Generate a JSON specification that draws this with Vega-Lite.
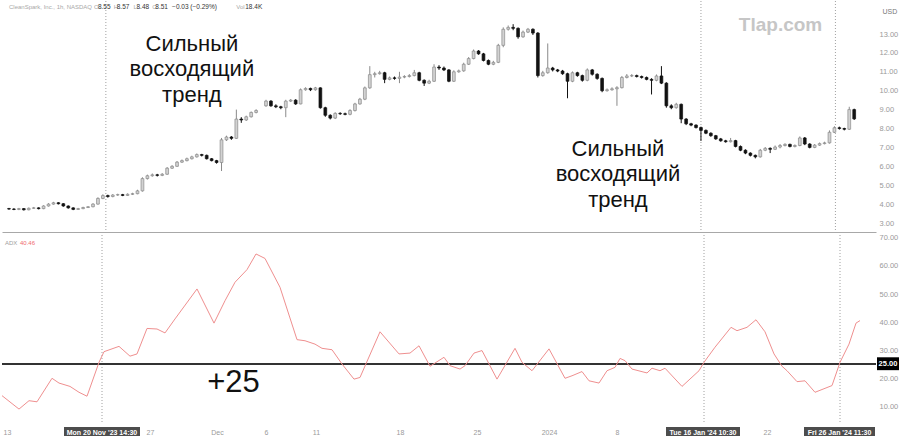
{
  "$schema": "https://vega.github.io/schema/vega-lite/v6.json",
  "padding": 0,
  "spacing": 0,
  "config": {"view": {"stroke": null}, "font": "Liberation Sans", "axis": {"labelFont": "Liberation Sans", "labelColor": "#9a9a9a", "labelFontSize": 8, "grid": false, "ticks": false, "domain": false, "labelOverlap": false}},
  "datasets": {
    "marks": [{"i": 19.6}, {"i": 140}, {"i": 167.2}],
    "candles": [
      {"i":0,"o":3.76,"h":3.80,"l":3.70,"c":3.74},{"i":1,"o":3.74,"h":3.78,"l":3.68,"c":3.72},{"i":2,"o":3.72,"h":3.80,"l":3.68,"c":3.76},{"i":3,"o":3.76,"h":3.79,"l":3.66,"c":3.70},{"i":4,"o":3.70,"h":3.82,"l":3.67,"c":3.78},{"i":5,"o":3.78,"h":3.85,"l":3.75,"c":3.80},{"i":6,"o":3.80,"h":3.83,"l":3.72,"c":3.76},{"i":7,"o":3.76,"h":3.94,"l":3.73,"c":3.90},{"i":8,"o":3.90,"h":4.05,"l":3.87,"c":4.00},{"i":9,"o":4.00,"h":4.12,"l":3.97,"c":4.07},
      {"i":10,"o":4.07,"h":4.10,"l":3.98,"c":4.02},{"i":11,"o":4.02,"h":4.05,"l":3.86,"c":3.90},{"i":12,"o":3.90,"h":3.93,"l":3.76,"c":3.80},{"i":13,"o":3.80,"h":3.83,"l":3.68,"c":3.72},{"i":14,"o":3.72,"h":3.80,"l":3.69,"c":3.76},{"i":15,"o":3.76,"h":3.86,"l":3.73,"c":3.82},{"i":16,"o":3.82,"h":3.90,"l":3.79,"c":3.86},{"i":17,"o":3.86,"h":4.05,"l":3.83,"c":4.00},{"i":18,"o":4.00,"h":4.36,"l":3.97,"c":4.30},{"i":19,"o":4.30,"h":4.52,"l":4.26,"c":4.45},
      {"i":20,"o":4.45,"h":4.50,"l":4.34,"c":4.40},{"i":21,"o":4.40,"h":4.53,"l":4.36,"c":4.48},{"i":22,"o":4.48,"h":4.55,"l":4.44,"c":4.50},{"i":23,"o":4.50,"h":4.54,"l":4.42,"c":4.46},{"i":24,"o":4.46,"h":4.57,"l":4.43,"c":4.52},{"i":25,"o":4.52,"h":4.60,"l":4.48,"c":4.55},{"i":26,"o":4.55,"h":4.76,"l":4.52,"c":4.70},{"i":27,"o":4.70,"h":5.42,"l":4.66,"c":5.35},{"i":28,"o":5.35,"h":5.56,"l":5.30,"c":5.50},{"i":29,"o":5.50,"h":5.62,"l":5.45,"c":5.55},
      {"i":30,"o":5.55,"h":5.60,"l":5.46,"c":5.52},{"i":31,"o":5.52,"h":5.64,"l":5.48,"c":5.58},{"i":32,"o":5.58,"h":5.96,"l":5.55,"c":5.90},{"i":33,"o":5.90,"h":6.06,"l":5.86,"c":6.00},{"i":34,"o":6.00,"h":6.28,"l":5.97,"c":6.22},{"i":35,"o":6.22,"h":6.36,"l":6.18,"c":6.30},{"i":36,"o":6.30,"h":6.46,"l":6.26,"c":6.40},{"i":37,"o":6.40,"h":6.56,"l":6.36,"c":6.50},{"i":38,"o":6.50,"h":6.68,"l":6.46,"c":6.62},{"i":39,"o":6.62,"h":6.66,"l":6.52,"c":6.58},
      {"i":40,"o":6.58,"h":6.62,"l":6.36,"c":6.40},{"i":41,"o":6.40,"h":6.44,"l":6.26,"c":6.30},{"i":42,"o":6.30,"h":6.34,"l":6.14,"c":6.20},{"i":43,"o":6.20,"h":7.50,"l":5.75,"c":7.40},{"i":44,"o":7.40,"h":7.62,"l":7.34,"c":7.55},{"i":45,"o":7.55,"h":7.60,"l":7.40,"c":7.48},{"i":46,"o":7.48,"h":9.00,"l":7.45,"c":8.50},{"i":47,"o":8.50,"h":8.60,"l":8.30,"c":8.45},{"i":48,"o":8.45,"h":8.68,"l":8.40,"c":8.62},{"i":49,"o":8.62,"h":8.90,"l":8.58,"c":8.85},
      {"i":50,"o":8.85,"h":9.02,"l":8.80,"c":8.95},{"i":52,"o":9.20,"h":9.52,"l":9.15,"c":9.45},{"i":53,"o":9.45,"h":9.50,"l":9.15,"c":9.20},{"i":54,"o":9.20,"h":9.28,"l":9.08,"c":9.15},{"i":55,"o":9.15,"h":9.20,"l":9.02,"c":9.10},{"i":56,"o":9.10,"h":9.52,"l":8.60,"c":9.45},{"i":57,"o":9.45,"h":9.56,"l":9.40,"c":9.50},{"i":58,"o":9.50,"h":9.55,"l":9.25,"c":9.30},{"i":59,"o":9.30,"h":10.12,"l":9.28,"c":10.05},
      {"i":60,"o":10.05,"h":10.18,"l":10.00,"c":10.12},{"i":61,"o":10.12,"h":10.16,"l":9.98,"c":10.05},{"i":62,"o":10.05,"h":10.20,"l":10.00,"c":10.15},{"i":63,"o":10.15,"h":10.18,"l":9.05,"c":9.10},{"i":64,"o":9.10,"h":9.15,"l":8.62,"c":8.70},{"i":65,"o":8.70,"h":8.75,"l":8.48,"c":8.55},{"i":66,"o":8.55,"h":8.86,"l":8.50,"c":8.80},{"i":67,"o":8.80,"h":8.86,"l":8.72,"c":8.78},{"i":68,"o":8.78,"h":8.84,"l":8.70,"c":8.75},{"i":69,"o":8.75,"h":9.02,"l":8.70,"c":8.95},
      {"i":70,"o":8.95,"h":9.36,"l":8.90,"c":9.30},{"i":71,"o":9.30,"h":9.62,"l":9.26,"c":9.55},{"i":72,"o":9.55,"h":10.22,"l":9.50,"c":10.15},{"i":73,"o":10.15,"h":11.30,"l":10.10,"c":10.85},{"i":74,"o":10.85,"h":11.00,"l":10.70,"c":10.90},{"i":75,"o":10.90,"h":11.05,"l":10.85,"c":10.95},{"i":76,"o":10.95,"h":11.00,"l":10.40,"c":10.60},{"i":77,"o":10.60,"h":10.75,"l":10.55,"c":10.68},{"i":78,"o":10.68,"h":10.75,"l":10.58,"c":10.65},{"i":79,"o":10.65,"h":11.00,"l":10.40,"c":10.72},
      {"i":80,"o":10.72,"h":10.82,"l":10.66,"c":10.75},{"i":81,"o":10.75,"h":10.88,"l":10.70,"c":10.80},{"i":82,"o":10.80,"h":11.10,"l":10.76,"c":10.95},{"i":83,"o":10.95,"h":11.00,"l":10.50,"c":10.55},{"i":84,"o":10.55,"h":10.60,"l":10.25,"c":10.40},{"i":85,"o":10.40,"h":10.58,"l":10.35,"c":10.50},{"i":86,"o":10.50,"h":11.40,"l":10.46,"c":11.25},{"i":87,"o":11.25,"h":11.35,"l":11.10,"c":11.20},{"i":88,"o":11.20,"h":11.28,"l":11.04,"c":11.10},{"i":89,"o":11.10,"h":11.14,"l":10.45,"c":10.50},
      {"i":90,"o":10.50,"h":11.08,"l":10.46,"c":11.00},{"i":91,"o":11.00,"h":11.12,"l":10.95,"c":11.05},{"i":92,"o":11.05,"h":11.48,"l":11.00,"c":11.40},{"i":93,"o":11.40,"h":11.78,"l":11.36,"c":11.70},{"i":94,"o":11.70,"h":12.18,"l":11.66,"c":12.10},{"i":95,"o":12.10,"h":12.15,"l":11.90,"c":11.95},{"i":96,"o":11.95,"h":12.00,"l":11.55,"c":11.60},{"i":97,"o":11.60,"h":11.65,"l":11.35,"c":11.40},{"i":98,"o":11.40,"h":11.58,"l":11.35,"c":11.50},{"i":99,"o":11.50,"h":12.48,"l":11.46,"c":12.40},
      {"i":100,"o":12.40,"h":13.35,"l":12.30,"c":13.25},{"i":101,"o":13.25,"h":13.45,"l":13.18,"c":13.35},{"i":102,"o":13.35,"h":13.52,"l":13.20,"c":13.30},{"i":103,"o":13.30,"h":13.35,"l":12.75,"c":12.85},{"i":104,"o":12.85,"h":13.18,"l":12.80,"c":13.10},{"i":105,"o":13.10,"h":13.32,"l":13.05,"c":13.25},{"i":106,"o":13.25,"h":13.30,"l":12.95,"c":13.05},{"i":107,"o":13.05,"h":13.10,"l":10.70,"c":10.80},{"i":108,"o":10.80,"h":11.05,"l":10.74,"c":10.95},{"i":109,"o":10.95,"h":12.50,"l":10.90,"c":11.20},
      {"i":110,"o":11.20,"h":11.26,"l":11.02,"c":11.10},{"i":111,"o":11.10,"h":11.15,"l":10.98,"c":11.04},{"i":112,"o":11.04,"h":11.10,"l":10.84,"c":10.90},{"i":113,"o":10.90,"h":10.95,"l":9.60,"c":10.50},{"i":114,"o":10.50,"h":11.02,"l":10.45,"c":10.95},{"i":115,"o":10.95,"h":11.00,"l":10.74,"c":10.80},{"i":116,"o":10.80,"h":10.85,"l":10.48,"c":10.55},{"i":117,"o":10.55,"h":11.18,"l":10.50,"c":11.10},{"i":118,"o":11.10,"h":11.15,"l":10.80,"c":10.87},{"i":119,"o":10.87,"h":10.92,"l":10.58,"c":10.65},
      {"i":120,"o":10.65,"h":10.70,"l":9.92,"c":10.00},{"i":121,"o":10.00,"h":10.12,"l":9.95,"c":10.05},{"i":122,"o":10.05,"h":10.18,"l":10.00,"c":10.10},{"i":123,"o":10.10,"h":10.24,"l":9.20,"c":10.16},{"i":124,"o":10.16,"h":10.78,"l":10.12,"c":10.70},{"i":125,"o":10.70,"h":10.88,"l":10.65,"c":10.78},{"i":126,"o":10.78,"h":10.88,"l":10.72,"c":10.80},{"i":127,"o":10.80,"h":10.85,"l":10.70,"c":10.75},{"i":128,"o":10.75,"h":10.80,"l":10.64,"c":10.70},{"i":129,"o":10.70,"h":10.75,"l":10.55,"c":10.60},
      {"i":130,"o":10.60,"h":10.66,"l":9.80,"c":10.55},{"i":131,"o":10.55,"h":10.86,"l":10.50,"c":10.78},{"i":132,"o":10.78,"h":11.30,"l":10.35,"c":10.40},{"i":133,"o":10.40,"h":10.45,"l":9.10,"c":9.20},{"i":134,"o":9.20,"h":9.28,"l":9.02,"c":9.10},{"i":135,"o":9.10,"h":9.36,"l":9.05,"c":9.28},{"i":136,"o":9.28,"h":9.32,"l":8.28,"c":8.50},{"i":137,"o":8.50,"h":8.55,"l":8.18,"c":8.25},{"i":138,"o":8.25,"h":8.30,"l":8.12,"c":8.18},{"i":139,"o":8.18,"h":8.22,"l":8.00,"c":8.05},
      {"i":140,"o":8.05,"h":8.10,"l":7.34,"c":7.90},{"i":141,"o":7.90,"h":7.95,"l":7.70,"c":7.75},{"i":142,"o":7.75,"h":7.80,"l":7.56,"c":7.62},{"i":143,"o":7.62,"h":7.66,"l":7.40,"c":7.45},{"i":144,"o":7.45,"h":7.50,"l":7.30,"c":7.35},{"i":145,"o":7.35,"h":7.40,"l":7.25,"c":7.30},{"i":146,"o":7.30,"h":7.50,"l":7.26,"c":7.36},{"i":147,"o":7.36,"h":7.40,"l":7.00,"c":7.05},{"i":148,"o":7.05,"h":7.10,"l":6.80,"c":6.85},{"i":149,"o":6.85,"h":6.90,"l":6.64,"c":6.70},
      {"i":150,"o":6.70,"h":6.74,"l":6.52,"c":6.58},{"i":151,"o":6.58,"h":6.62,"l":6.42,"c":6.50},{"i":152,"o":6.50,"h":6.92,"l":6.46,"c":6.85},{"i":153,"o":6.85,"h":7.02,"l":6.80,"c":6.95},{"i":154,"o":6.95,"h":7.00,"l":6.70,"c":6.90},{"i":155,"o":6.90,"h":7.10,"l":6.86,"c":7.02},{"i":156,"o":7.02,"h":7.18,"l":6.95,"c":7.10},{"i":157,"o":7.10,"h":7.22,"l":7.05,"c":7.16},{"i":158,"o":7.16,"h":7.20,"l":7.00,"c":7.05},{"i":159,"o":7.05,"h":7.16,"l":7.00,"c":7.10},
      {"i":160,"o":7.10,"h":7.58,"l":7.06,"c":7.50},{"i":161,"o":7.50,"h":7.55,"l":7.12,"c":7.18},{"i":162,"o":7.18,"h":7.22,"l":6.95,"c":7.00},{"i":163,"o":7.00,"h":7.18,"l":6.96,"c":7.12},{"i":164,"o":7.12,"h":7.26,"l":7.08,"c":7.20},{"i":165,"o":7.20,"h":7.30,"l":7.16,"c":7.24},{"i":166,"o":7.24,"h":7.90,"l":7.20,"c":7.80},{"i":167,"o":7.80,"h":8.12,"l":7.76,"c":8.04},{"i":168,"o":8.04,"h":8.10,"l":7.94,"c":8.00},{"i":169,"o":8.00,"h":8.04,"l":7.90,"c":7.96},
      {"i":170,"o":7.96,"h":9.15,"l":7.92,"c":9.00},{"i":171,"o":9.00,"h":9.05,"l":8.45,"c":8.51}
    ],
    "adx": [
      {"i":-0.4,"v":13.7},{"i":3,"v":8.9},{"i":5,"v":11.9},{"i":6.6,"v":11.5},{"i":9.6,"v":19.9},{"i":11,"v":18.2},{"i":13.2,"v":17.0},{"i":15,"v":14.9},{"i":16.6,"v":13.5},{"i":19,"v":25.6},
      {"i":20,"v":29.4},{"i":23,"v":31.3},{"i":25.2,"v":27.8},{"i":26.6,"v":28.6},{"i":28.6,"v":37.7},{"i":30.6,"v":37.5},{"i":32.2,"v":36.1},{"i":34.2,"v":41.1},{"i":38.6,"v":51.8},{"i":42,"v":39.6},
      {"i":44.2,"v":47.6},{"i":46.2,"v":54.2},{"i":48.6,"v":58.7},{"i":50.4,"v":64.3},{"i":52.2,"v":62.7},{"i":55.2,"v":52.4},{"i":58.6,"v":33.7},{"i":60.2,"v":33.3},{"i":62.2,"v":32.1},{"i":63.6,"v":30.6},
      {"i":65.6,"v":30.1},{"i":67.6,"v":25.0},{"i":70,"v":19.6},{"i":71.2,"v":20.2},{"i":75.2,"v":36.5},{"i":79,"v":28.6},{"i":81.2,"v":28.9},{"i":83,"v":31.5},{"i":85.2,"v":24.2},{"i":88,"v":27.4},
      {"i":89.2,"v":24.4},{"i":91.2,"v":23.2},{"i":92.2,"v":24.4},{"i":94,"v":28.9},{"i":95.6,"v":29.8},{"i":98.6,"v":19.6},{"i":102.2,"v":30.6},{"i":103.6,"v":25.6},{"i":105.6,"v":22.6},{"i":109,"v":30.4},
      {"i":112.2,"v":19.9},{"i":113.6,"v":20.8},{"i":115.6,"v":22.3},{"i":117,"v":19.0},{"i":119,"v":18.2},{"i":120.6,"v":22.6},{"i":122.2,"v":23.8},{"i":123.2,"v":27.0},{"i":124.2,"v":26.2},{"i":125.6,"v":23.2},
      {"i":128.6,"v":21.8},{"i":129.6,"v":23.5},{"i":131.2,"v":22.6},{"i":132.2,"v":23.5},{"i":135.6,"v":17.0},{"i":139,"v":22.6},{"i":140,"v":25.6},{"i":142.2,"v":31.0},{"i":145.4,"v":38.1},{"i":146.6,"v":36.9},
      {"i":148.6,"v":38.1},{"i":150.4,"v":40.8},{"i":152.2,"v":36.5},{"i":154,"v":28.6},{"i":155.6,"v":24.2},{"i":156.6,"v":22.6},{"i":158.6,"v":18.7},{"i":160.2,"v":19.0},{"i":162.2,"v":14.9},{"i":165.6,"v":17.3},
      {"i":167.2,"v":25.6},{"i":169,"v":32.1},{"i":170.4,"v":39.6},{"i":171.2,"v":40.5}
    ]
  },
  "vconcat": [
    {
      "width": 874,
      "height": 231,
      "layer": [
        {
          "data": {"name": "marks"},
          "mark": {"type": "rule", "color": "#a0a0a0", "strokeDash": [1, 2], "strokeWidth": 1},
          "encoding": {"x": {"field": "i", "type": "quantitative", "scale": {"domain": [-0.4, 174.4], "nice": false, "zero": false}, "axis": {"labels": false, "ticks": false, "domain": true, "domainColor": "#a8a8a8", "title": null}}}
        },
        {
          "data": {"name": "candles"},
          "mark": {"type": "rule", "strokeWidth": 1},
          "encoding": {
            "x": {"field": "i", "type": "quantitative"},
            "y": {"field": "l", "type": "quantitative", "scale": {"domain": [2.524, 14.746], "nice": false, "zero": false},
                  "axis": {"orient": "right", "values": [3,4,5,6,7,8,9,10,11,12,13], "tickCount": 30, "format": ".2f", "labelPadding": 3, "labelOverlap": false, "labelFontSize": 7.5, "title": "USD", "titleAngle": 0, "titleAlign": "left", "titleBaseline": "middle", "titleX": 6, "titleY": 10, "titleFontSize": 7, "titleFontWeight": "normal", "titleColor": "#777", "titleFont": "Liberation Sans"}},
            "y2": {"field": "h"},
            "color": {"condition": {"test": "datum.c >= datum.o", "value": "#8a8a8a"}, "value": "#111111"}
          }
        },
        {
          "data": {"name": "candles"},
          "mark": {"type": "bar", "width": 2.8, "strokeWidth": 0.7},
          "encoding": {
            "x": {"field": "i", "type": "quantitative"},
            "y": {"field": "o", "type": "quantitative"},
            "y2": {"field": "c"},
            "fill": {"condition": {"test": "datum.c >= datum.o", "value": "#d2d2d2"}, "value": "#111111"},
            "stroke": {"condition": {"test": "datum.c >= datum.o", "value": "#8a8a8a"}, "value": "#111111"}
          }
        },
        {"data": {"values": [{}]}, "mark": {"type": "text", "align": "left", "baseline": "middle", "fontSize": 6, "color": "#a8a8a8"}, "encoding": {"x": {"datum": 0, "type": "quantitative"}, "y": {"datum": 14.43, "type": "quantitative"}, "text": {"value": "CleanSpark, Inc., 1h, NASDAQ"}}},
        {"data": {"values": [{}]}, "mark": {"type": "text", "align": "left", "baseline": "middle", "fontSize": 6, "color": "#a8a8a8"}, "encoding": {"x": {"datum": 17.2, "type": "quantitative"}, "y": {"datum": 14.43, "type": "quantitative"}, "text": {"value": "O"}}},
        {"data": {"values": [{}]}, "mark": {"type": "text", "align": "left", "baseline": "middle", "fontSize": 6, "color": "#a8a8a8"}, "encoding": {"x": {"datum": 21.2, "type": "quantitative"}, "y": {"datum": 14.43, "type": "quantitative"}, "text": {"value": "H"}}},
        {"data": {"values": [{}]}, "mark": {"type": "text", "align": "left", "baseline": "middle", "fontSize": 6, "color": "#a8a8a8"}, "encoding": {"x": {"datum": 25.2, "type": "quantitative"}, "y": {"datum": 14.43, "type": "quantitative"}, "text": {"value": "L"}}},
        {"data": {"values": [{}]}, "mark": {"type": "text", "align": "left", "baseline": "middle", "fontSize": 6, "color": "#a8a8a8"}, "encoding": {"x": {"datum": 29, "type": "quantitative"}, "y": {"datum": 14.43, "type": "quantitative"}, "text": {"value": "C"}}},
        {"data": {"values": [{}]}, "mark": {"type": "text", "align": "left", "baseline": "middle", "fontSize": 6, "color": "#a8a8a8"}, "encoding": {"x": {"datum": 46, "type": "quantitative"}, "y": {"datum": 14.43, "type": "quantitative"}, "text": {"value": "Vol"}}},
        {"data": {"values": [{}]}, "mark": {"type": "text", "align": "left", "baseline": "middle", "fontSize": 6.5, "color": "#333333"}, "encoding": {"x": {"datum": 18, "type": "quantitative"}, "y": {"datum": 14.43, "type": "quantitative"}, "text": {"value": "8.55"}}},
        {"data": {"values": [{}]}, "mark": {"type": "text", "align": "left", "baseline": "middle", "fontSize": 6.5, "color": "#333333"}, "encoding": {"x": {"datum": 21.8, "type": "quantitative"}, "y": {"datum": 14.43, "type": "quantitative"}, "text": {"value": "8.57"}}},
        {"data": {"values": [{}]}, "mark": {"type": "text", "align": "left", "baseline": "middle", "fontSize": 6.5, "color": "#333333"}, "encoding": {"x": {"datum": 25.8, "type": "quantitative"}, "y": {"datum": 14.43, "type": "quantitative"}, "text": {"value": "8.48"}}},
        {"data": {"values": [{}]}, "mark": {"type": "text", "align": "left", "baseline": "middle", "fontSize": 6.5, "color": "#333333"}, "encoding": {"x": {"datum": 29.6, "type": "quantitative"}, "y": {"datum": 14.43, "type": "quantitative"}, "text": {"value": "8.51"}}},
        {"data": {"values": [{}]}, "mark": {"type": "text", "align": "left", "baseline": "middle", "fontSize": 6.5, "color": "#333333"}, "encoding": {"x": {"datum": 33, "type": "quantitative"}, "y": {"datum": 14.43, "type": "quantitative"}, "text": {"value": "−0.03 (−0.29%)"}}},
        {"data": {"values": [{}]}, "mark": {"type": "text", "align": "left", "baseline": "middle", "fontSize": 6.5, "color": "#333333"}, "encoding": {"x": {"datum": 47.8, "type": "quantitative"}, "y": {"datum": 14.43, "type": "quantitative"}, "text": {"value": "18.4K"}}},
        {"data": {"values": [{}]}, "mark": {"type": "text", "align": "center", "baseline": "alphabetic", "fontSize": 22, "lineHeight": 25.3, "color": "#111111", "font": "Liberation Sans"}, "encoding": {"x": {"datum": 37, "type": "quantitative"}, "y": {"datum": 12.10, "type": "quantitative"}, "text": {"value": ["Сильный", "восходящий", "тренд"]}}},
        {"data": {"values": [{}]}, "mark": {"type": "text", "align": "center", "baseline": "alphabetic", "fontSize": 22, "lineHeight": 25.3, "color": "#111111", "font": "Liberation Sans"}, "encoding": {"x": {"datum": 123.2, "type": "quantitative"}, "y": {"datum": 6.545, "type": "quantitative"}, "text": {"value": ["Сильный", "восходящий", "тренд"]}}},
        {"data": {"values": [{}]}, "mark": {"type": "text", "align": "center", "baseline": "alphabetic", "fontSize": 19, "fontWeight": "bold", "color": "#c6c6c6", "font": "Liberation Sans"}, "encoding": {"x": {"datum": 156.1, "type": "quantitative"}, "y": {"datum": 13.16, "type": "quantitative"}, "text": {"value": "Tlap.com"}}}
      ]
    },
    {
      "width": 874,
      "height": 187,
      "layer": [
        {
          "data": {"name": "marks"},
          "mark": {"type": "rule", "color": "#a0a0a0", "strokeDash": [1, 2], "strokeWidth": 1},
          "encoding": {"x": {"field": "i", "type": "quantitative", "scale": {"domain": [-0.4, 174.4], "nice": false, "zero": false},
            "axis": {"values": [0.6, 29.2, 42.6, 52.4, 62.4, 79.2, 94.6, 109, 122.6, 152.6], "tickCount": 40, "labelExpr": "datum.value == 0.6 ? '13' : datum.value == 29.2 ? '27' : datum.value == 42.6 ? 'Dec' : datum.value == 52.4 ? '6' : datum.value == 62.4 ? '11' : datum.value == 79.2 ? '18' : datum.value == 94.6 ? '25' : datum.value == 109 ? '2024' : datum.value == 122.6 ? '8' : '22'", "labelFontSize": 7, "labelPadding": 6, "labelFlush": false, "labelOverlap": false, "title": null}}}
        },
        {
          "data": {"values": [{}]},
          "mark": {"type": "rule", "color": "#333333", "strokeWidth": 2},
          "encoding": {"y": {"datum": 25, "type": "quantitative"}}
        },
        {
          "data": {"name": "adx"},
          "mark": {"type": "line", "color": "#ef8f8f", "strokeWidth": 1},
          "encoding": {
            "x": {"field": "i", "type": "quantitative"},
            "y": {"field": "v", "type": "quantitative", "scale": {"domain": [4.29, 71.07], "nice": false, "zero": false},
                  "axis": {"orient": "right", "values": [10,20,30,40,50,60,70], "tickCount": 30, "format": ".2f", "labelPadding": 3, "labelOverlap": false, "labelFontSize": 7.5, "title": null}}
          }
        },
        {"data": {"values": [{}]}, "mark": {"type": "text", "align": "left", "baseline": "middle", "fontSize": 6, "color": "#a0a0a0"}, "encoding": {"x": {"datum": 0.2, "type": "quantitative"}, "y": {"datum": 68.2, "type": "quantitative"}, "text": {"value": "ADX"}}},
        {"data": {"values": [{}]}, "mark": {"type": "text", "align": "left", "baseline": "middle", "fontSize": 6, "color": "#ef6b6b"}, "encoding": {"x": {"datum": 3.2, "type": "quantitative"}, "y": {"datum": 68.2, "type": "quantitative"}, "text": {"value": "40.46"}}},
        {"data": {"values": [{}]}, "mark": {"type": "text", "align": "center", "baseline": "alphabetic", "fontSize": 31, "color": "#111111", "font": "Liberation Sans"}, "encoding": {"x": {"datum": 45.9, "type": "quantitative"}, "y": {"datum": 15.0, "type": "quantitative"}, "text": {"value": "+25"}}},
        {"data": {"values": [{}]}, "mark": {"type": "rect", "color": "#000000"}, "encoding": {"x": {"datum": 174.6, "type": "quantitative"}, "x2": {"datum": 179.0}, "y": {"datum": 27.4, "type": "quantitative"}, "y2": {"datum": 22.8}}},
        {"data": {"values": [{}]}, "mark": {"type": "text", "align": "center", "baseline": "middle", "fontSize": 7.5, "fontWeight": "bold", "color": "#ffffff"}, "encoding": {"x": {"datum": 176.8, "type": "quantitative"}, "y": {"datum": 25, "type": "quantitative"}, "text": {"value": "25.00"}}},
        {"data": {"values": [{}]}, "mark": {"type": "rect", "color": "#4d4d4d"}, "encoding": {"x": {"datum": 12, "type": "quantitative"}, "x2": {"datum": 27.2}, "y": {"datum": 2.5, "type": "quantitative"}, "y2": {"datum": -2.0}}},
        {"data": {"values": [{}]}, "mark": {"type": "rect", "color": "#4d4d4d"}, "encoding": {"x": {"datum": 132.4, "type": "quantitative"}, "x2": {"datum": 147.2}, "y": {"datum": 2.5, "type": "quantitative"}, "y2": {"datum": -2.0}}},
        {"data": {"values": [{}]}, "mark": {"type": "rect", "color": "#4d4d4d"}, "encoding": {"x": {"datum": 160, "type": "quantitative"}, "x2": {"datum": 174.2}, "y": {"datum": 2.5, "type": "quantitative"}, "y2": {"datum": -2.0}}},
        {"data": {"values": [{}]}, "mark": {"type": "text", "align": "center", "baseline": "middle", "fontSize": 7, "fontWeight": "bold", "color": "#ffffff"}, "encoding": {"x": {"datum": 19.6, "type": "quantitative"}, "y": {"datum": 0.2, "type": "quantitative"}, "text": {"value": "Mon 20 Nov '23   14:30"}}},
        {"data": {"values": [{}]}, "mark": {"type": "text", "align": "center", "baseline": "middle", "fontSize": 7, "fontWeight": "bold", "color": "#ffffff"}, "encoding": {"x": {"datum": 139.8, "type": "quantitative"}, "y": {"datum": 0.2, "type": "quantitative"}, "text": {"value": "Tue 16 Jan '24   10:30"}}},
        {"data": {"values": [{}]}, "mark": {"type": "text", "align": "center", "baseline": "middle", "fontSize": 7, "fontWeight": "bold", "color": "#ffffff"}, "encoding": {"x": {"datum": 167.1, "type": "quantitative"}, "y": {"datum": 0.2, "type": "quantitative"}, "text": {"value": "Fri 26 Jan '24   11:30"}}}
      ]
    }
  ]
}
